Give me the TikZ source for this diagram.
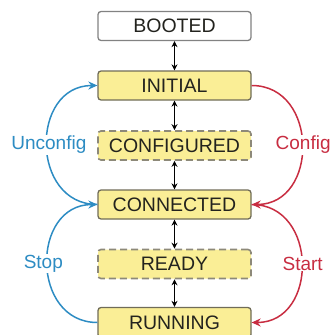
\documentclass[tikz,border=0pt]{standalone}
\usepackage{fontspec}
\setmainfont{Liberation Sans}
\usetikzlibrary{arrows.meta}
\definecolor{boxfill}{RGB}{250,238,150}
\definecolor{boxline}{RGB}{112,108,88}
\definecolor{bootline}{RGB}{130,130,130}
\definecolor{txt}{RGB}{35,35,30}
\definecolor{cblue}{RGB}{45,140,195}
\definecolor{cred}{RGB}{200,45,65}
\tikzset{
  state/.style={draw=boxline, fill=boxfill, line width=1.3pt, rounded corners=3pt,
    minimum width=153pt, minimum height=29pt, inner sep=0pt,
    font=\fontsize{19.5}{21}\selectfont, text=txt},
  bootbox/.style={state, draw=bootline, fill=white},
  dashedbox/.style={state, dash pattern=on 7pt off 4pt, line width=1.6pt, draw=boxline!80},
  link/.style={{Stealth[length=6pt,width=6pt]}-{Stealth[length=6pt,width=6pt]}, line width=1.3pt, black},
  arcblue/.style={-{Stealth[length=9pt,width=8pt]}, line width=1.5pt, cblue},
  arcred/.style={-{Stealth[length=9pt,width=8pt]}, line width=1.5pt, cred},
  lab/.style={fill=white, inner sep=1pt, font=\fontsize{19}{21}\selectfont}
}
\begin{document}
\begin{tikzpicture}[x=1pt,y=-1pt]
\useasboundingbox (0,0) rectangle (330,335);
\node[bootbox] (booted) at (174.5,26) {BOOTED};
\node[state] (initial) at (174.5,85.5) {INITIAL};
\node[dashedbox] (configured) at (174.5,145.5) {CONFIGURED};
\node[state] (connected) at (174.5,204.5) {CONNECTED};
\node[dashedbox] (ready) at (174.5,264) {READY};
\node[state, minimum height=30pt] (running) at (174.5,322.5) {RUNNING};
\draw[link] (booted) -- (initial);
\draw[link] (initial) -- (configured);
\draw[link] (configured) -- (connected);
\draw[link] (connected) -- (ready);
\draw[link] (ready) -- (running);
\draw[arcblue] (connected.west) to[out=180,in=180,looseness=1.45]
  node[lab, text=cblue, pos=0.5, xshift=2pt] (unconfig) {Unconfig} (initial.west);
\draw[arcred] (initial.east) to[out=0,in=0,looseness=1.45]
  node[lab, text=cred, pos=0.5, xshift=1pt] (config) {Config} (connected.east);
\draw[arcblue] (running.west) to[out=180,in=180,looseness=1.45]
  node[lab, text=cblue, pos=0.5, xshift=-4pt] (stop) {Stop} (connected.west);
\draw[arcred] (connected.east) to[out=0,in=0,looseness=1.45]
  node[lab, text=cred, pos=0.5, xshift=1pt] (start) {Start} (running.east);
\end{tikzpicture}
\end{document}
